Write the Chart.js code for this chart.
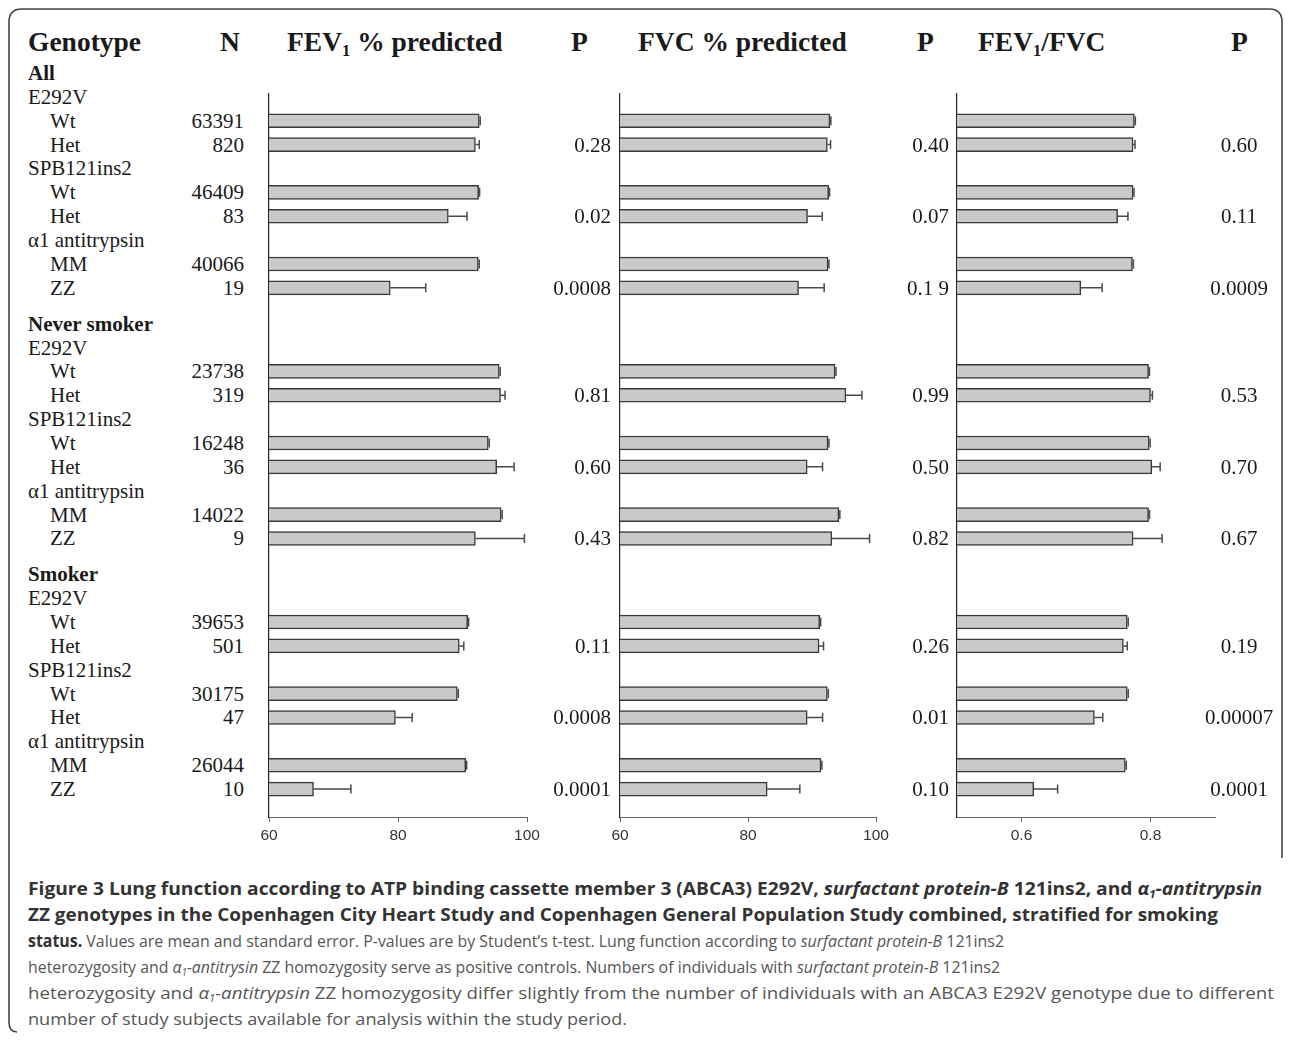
<!DOCTYPE html>
<html>
<head>
<meta charset="utf-8">
<script src="https://cdn.jsdelivr.net/npm/chart.js@4.4.1/dist/chart.umd.min.js"></script>
<style>
  html, body { margin: 0; padding: 0; background: #fff; }
  #page { position: relative; width: 1290px; height: 1040px; overflow: hidden; background: #fff; }
  .t { position: absolute; white-space: nowrap; font-family: "Liberation Serif", "Times New Roman", serif; color: #1a1a1a; }
  .hdr { font-weight: bold; font-size: 27.5px; height: 34px; line-height: 34px; }
  .row { font-size: 21px; height: 24px; line-height: 24px; }
  .bold { font-weight: bold; }
  sub { font-size: 0.6em; line-height: 0; vertical-align: baseline; position: relative; top: 0.28em; }
  .cap { position: absolute; left: 28px; white-space: nowrap; font-family: "Open Sans", "Noto Sans", sans-serif; font-size: 17px; height: 26px; line-height: 26px; color: #555; transform-origin: 0 50%; }
  .cap b { color: #333; }
  canvas { position: absolute; }
</style>
</head>
<body>
<div id="page">
  <svg width="1290" height="1040" style="position:absolute;left:0;top:0">
    <path d="M 1282 858 L 1282 22 Q 1282 9 1269 9 L 22 9 Q 9 9 9 22 L 9 1022 Q 9 1032 17 1032" fill="none" stroke="#444" stroke-width="1.6"/>
  </svg>
  <canvas id="c1" width="306" height="767"></canvas>
  <canvas id="c2" width="304" height="767"></canvas>
  <canvas id="c3" width="306" height="767"></canvas>
  <div id="labels"></div>
  <div id="caption"></div>
</div>
<script>
// ---------------- data ----------------
const groupNames = ['All', 'Never smoker', 'Smoker'];
const geneNames = ['E292V', 'SPB121ins2', 'α1 antitrypsin'];
const genotypeNames = [['Wt', 'Het'], ['Wt', 'Het'], ['MM', 'ZZ']];
const nValues = [63391, 820, 46409, 83, 40066, 19,
                 23738, 319, 16248, 36, 14022, 9,
                 39653, 501, 30175, 47, 26044, 10];

const fev1Values = [92.6, 92.0, 92.5, 87.8, 92.45, 78.8,
                    95.7, 95.9, 94.0, 95.3, 96.0, 92.0,
                    90.8, 89.5, 89.2, 79.6, 90.5, 66.9];
const fev1Errors = [0.15, 0.6, 0.15, 2.9, 0.15, 5.5,
                    0.15, 0.7, 0.15, 2.7, 0.15, 7.6,
                    0.15, 0.7, 0.15, 2.6, 0.15, 5.8];

const fvcValues = [92.8, 92.4, 92.6, 89.3, 92.5, 87.9,
                   93.6, 95.3, 92.5, 89.25, 94.2, 93.1,
                   91.2, 91.1, 92.4, 89.25, 91.4, 83.0];
const fvcErrors = [0.15, 0.5, 0.15, 2.3, 0.15, 4.0,
                   0.15, 2.5, 0.15, 2.4, 0.15, 5.9,
                   0.15, 0.7, 0.15, 2.4, 0.15, 5.1];

const ratioValues = [0.775, 0.773, 0.773, 0.749, 0.772, 0.692,
                     0.797, 0.800, 0.798, 0.802, 0.797, 0.773,
                     0.764, 0.758, 0.764, 0.713, 0.761, 0.619];
const ratioErrors = [0.0015, 0.003, 0.0015, 0.016, 0.0015, 0.033,
                     0.0015, 0.003, 0.0015, 0.013, 0.0015, 0.045,
                     0.0015, 0.006, 0.0015, 0.013, 0.0015, 0.037];

const pFev1 = ['0.28', '0.02', '0.0008', '0.81', '0.60', '0.43', '0.11', '0.0008', '0.0001'];
const pFvc = ['0.40', '0.07', '0.1 9', '0.99', '0.50', '0.82', '0.26', '0.01', '0.10'];
const pRatio = ['0.60', '0.11', '0.0009', '0.53', '0.70', '0.67', '0.19', '0.00007', '0.0001'];

const fev1Ticks = [60, 80, 100];
const fvcTicks = [60, 80, 100];
const ratioTicks = [0.6, 0.8];

// ---------------- layout helpers ----------------
const ROW0 = 73, PITCH = 23.87;           // pixel of row-unit 0 and pixels per row unit
const GROUP_STEP = 10.5;                   // row units per group (incl. gap)
const rowY = p => ROW0 + PITCH * p;
const barPos = i => Math.floor(i / 6) * GROUP_STEP + 2 + 3 * Math.floor((i % 6) / 2) + (i % 2);
const AREA_TOP = 93, AREA_BOTTOM = 817, CANVAS_TOP = 93, CANVAS_H = 767, PAD = 24;
const yMin = (AREA_TOP - ROW0) / PITCH, yMax = (AREA_BOTTOM - ROW0) / PITCH;

const errorBarPlugin = {
  id: 'errorBars',
  afterDatasetsDraw(chart) {
    const ctx = chart.ctx, ds = chart.data.datasets[0], meta = chart.getDatasetMeta(0), xs = chart.scales.x;
    ctx.save();
    ctx.strokeStyle = '#4a4a4a';
    ctx.lineWidth = 1.5;
    meta.data.forEach((bar, i) => {
      const v = ds.data[i].x, e = ds.errors[i];
      const x0 = xs.getPixelForValue(v), x1 = xs.getPixelForValue(v + e);
      const y = bar.y;
      ctx.beginPath();
      ctx.moveTo(x0, y); ctx.lineTo(x1, y);
      ctx.moveTo(x1, y - 4.5); ctx.lineTo(x1, y + 4.5);
      ctx.stroke();
    });
    ctx.restore();
  }
};

function makeChart(id, left, values, errors, xmin, xmax, ticks, fmt) {
  const cv = document.getElementById(id);
  cv.style.left = (left - PAD) + 'px';
  cv.style.top = CANVAS_TOP + 'px';
  return new Chart(cv, {
    type: 'bar',
    data: {
      datasets: [{
        data: values.map((v, i) => ({ x: v, y: barPos(i) })),
        errors: errors,
        backgroundColor: '#c9c9c9',
        borderColor: '#3a3a3a',
        borderWidth: 1.5,
        borderSkipped: 'start',
        barThickness: 14
      }]
    },
    options: {
      indexAxis: 'y',
      responsive: false,
      animation: false,
      events: [],
      layout: { padding: { left: PAD, right: PAD, top: 0, bottom: 0 } },
      plugins: { legend: { display: false }, tooltip: { enabled: false } },
      scales: {
        x: {
          type: 'linear', min: xmin, max: xmax, position: 'bottom', offset: false,
          afterBuildTicks: s => { s.ticks = ticks.map(v => ({ value: v })); },
          afterFit: s => { s.height = CANVAS_H - (AREA_BOTTOM - AREA_TOP); },
          ticks: { callback: fmt, color: '#333', font: { family: 'Liberation Sans', size: 15.5 }, padding: 4, maxRotation: 0, autoSkip: false },
          grid: { display: true, offset: false, drawOnChartArea: false, drawTicks: true, tickLength: 5, color: '#666', lineWidth: 1 },
          border: { display: true, color: '#666', width: 1 }
        },
        y: {
          type: 'linear', reverse: true, min: yMin, max: yMax, position: 'left', offset: false,
          afterFit: s => { s.width = 0; },
          ticks: { display: false },
          grid: { display: false, offset: false },
          border: { display: true, color: '#222', width: 1.2 }
        }
      }
    },
    plugins: [errorBarPlugin]
  });
}

makeChart('c1', 269, fev1Values, fev1Errors, 60, 100, fev1Ticks, v => String(v));
makeChart('c2', 620, fvcValues, fvcErrors, 60, 100, fvcTicks, v => String(v));
makeChart('c3', 957, ratioValues, ratioErrors, 0.5, 0.9, ratioTicks, v => v.toFixed(1));

// ---------------- text ----------------
const L = document.getElementById('labels');
function addText(html, cls, x, yc, h, align) {
  const d = document.createElement('div');
  d.className = 't ' + cls;
  d.innerHTML = html;
  d.style.top = (yc - h / 2) + 'px';
  if (align === 'right') d.style.right = (1290 - x) + 'px';
  else if (align === 'center') { d.style.left = x + 'px'; d.style.transform = 'translateX(-50%)'; }
  else d.style.left = x + 'px';
  L.appendChild(d);
}
// headers
addText('Genotype', 'hdr', 28, 42, 34);
addText('N', 'hdr', 220, 42, 34);
addText('FEV<sub>1</sub> % predicted', 'hdr', 287, 42, 34);
addText('P', 'hdr', 571, 42, 34);
addText('FVC % predicted', 'hdr', 638, 42, 34);
addText('P', 'hdr', 917, 42, 34);
addText('FEV<sub>1</sub>/FVC', 'hdr', 978, 42, 34);
addText('P', 'hdr', 1231, 42, 34);

groupNames.forEach((g, gi) => {
  const base = gi * GROUP_STEP;
  addText(g, 'row bold', 28, rowY(base), 24);
  geneNames.forEach((gn, k) => {
    addText(gn, 'row', 28, rowY(base + 1 + 3 * k), 24);
    genotypeNames[k].forEach((gt, j) => {
      const i = gi * 6 + k * 2 + j;
      const p = barPos(i);
      addText(gt, 'row', 50, rowY(p), 24);
      addText(String(nValues[i]), 'row', 244, rowY(p), 24, 'right');
    });
    const pi = gi * 3 + k;
    const pp = rowY(base + 3 + 3 * k);
    addText(pFev1[pi], 'row', 611, pp, 24, 'right');
    addText(pFvc[pi], 'row', 949, pp, 24, 'right');
    addText(pRatio[pi], 'row', 1239, pp, 24, 'center');
  });
});

// ---------------- caption ----------------
const capLines = [
  ['<b>Figure 3 Lung function according to ATP binding cassette member 3 (ABCA3) E292V, <i>surfactant protein-B</i> 121ins2, and <i>α<sub>1</sub>-antitrypsin</i></b>', 889, 1262],
  ['<b>ZZ genotypes in the Copenhagen City Heart Study and Copenhagen General Population Study combined, stratified for smoking</b>', 915, 1218],
  ['<b>status.</b> Values are mean and standard error. P-values are by Student’s t-test. Lung function according to <i>surfactant protein-B</i> 121ins2', 941, 1004],
  ['heterozygosity and <i>α<sub>1</sub>-antitrysin</i> ZZ homozygosity serve as positive controls. Numbers of individuals with <i>surfactant protein-B</i> 121ins2', 967, 1000],
  ['heterozygosity and <i>α<sub>1</sub>-antitrypsin</i> ZZ homozygosity differ slightly from the number of individuals with an ABCA3 E292V genotype due to different', 993, 1274],
  ['number of study subjects available for analysis within the study period.', 1019, 627]
];
const C = document.getElementById('caption');
capLines.forEach(([html, yc, right]) => {
  const d = document.createElement('div');
  d.className = 'cap';
  d.innerHTML = html;
  d.style.top = (yc - 13) + 'px';
  C.appendChild(d);
  const w = d.getBoundingClientRect().width;
  d.style.transform = 'scaleX(' + ((right - 28) / w) + ')';
});
</script>
</body>
</html>
